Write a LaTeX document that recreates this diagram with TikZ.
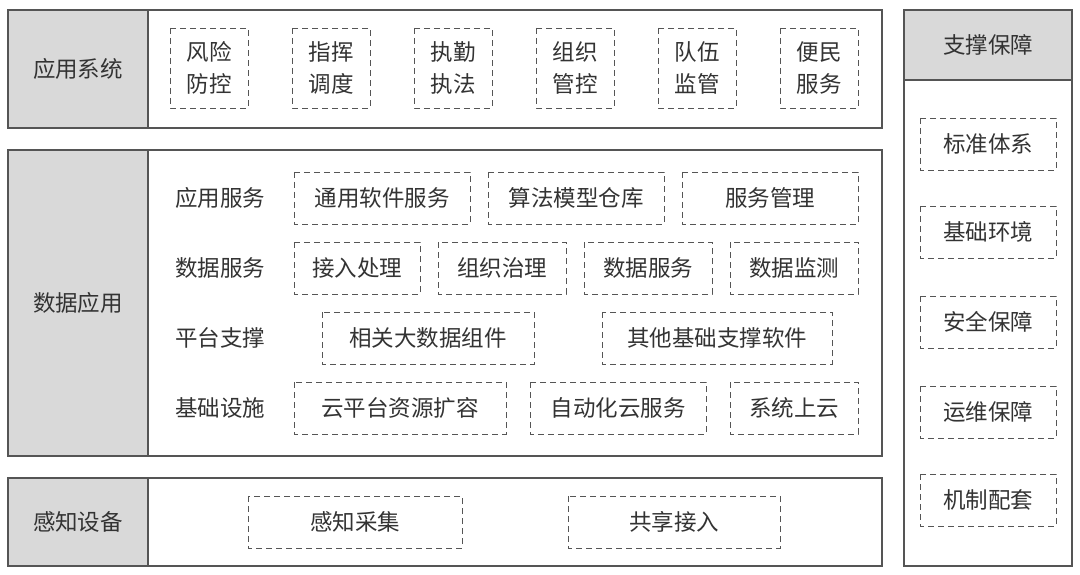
\documentclass[tikz,border=0pt]{standalone}
\usepackage{fontspec}
\setmainfont{Noto Sans CJK SC}
\definecolor{ln}{HTML}{555555}
\definecolor{gr}{HTML}{D9D9D9}
\definecolor{tx}{HTML}{333333}
\tikzset{
 outer/.style={draw=ln,line width=1.2pt},
 graybox/.style={draw=ln,fill=gr,line width=1.2pt},
 dbox/.style={draw=ln,dashed,dash pattern=on 6pt off 4pt,line width=0.9pt},
 lbl/.style={text=tx,font=\fontsize{22.5}{32}\selectfont,align=center},
}
\newcommand{\db}[6]{\draw[dbox] (#2,#4) rectangle (#3,#5); \node[lbl] (#1) at ({(#2+#3)/2},{(#4+#5)/2}) {#6};}
\begin{document}
\begin{tikzpicture}[x=1pt,y=-1pt]
\useasboundingbox (0,0) rectangle (1080,575);
\fill[white] (0,0) rectangle (1080,575);
% row 1
\draw[outer] (8,10) rectangle (882,128);
\draw[graybox] (8,10) rectangle (148,128);
\node[lbl] (r1) at (78,69) {应用系统};
\db{a1}{170}{248}{28}{108}{风险\\防控}
\db{a2}{292}{370}{28}{108}{指挥\\调度}
\db{a3}{414}{492}{28}{108}{执勤\\执法}
\db{a4}{536}{614}{28}{108}{组织\\管控}
\db{a5}{658}{736}{28}{108}{队伍\\监管}
\db{a6}{780}{858}{28}{108}{便民\\服务}
% row 2
\draw[outer] (8,150) rectangle (882,456);
\draw[graybox] (8,150) rectangle (148,456);
\node[lbl] (r2) at (78,303) {数据应用};
\node[lbl] (s1) at (220,198) {应用服务};
\node[lbl] (s2) at (220,268) {数据服务};
\node[lbl] (s3) at (220,338) {平台支撑};
\node[lbl] (s4) at (220,408) {基础设施};
\db{b1}{294}{470}{172}{224}{通用软件服务}
\db{b2}{488}{664}{172}{224}{算法模型仓库}
\db{b3}{682}{858}{172}{224}{服务管理}
\db{c1}{294}{420}{242}{294}{接入处理}
\db{c2}{438}{566}{242}{294}{组织治理}
\db{c3}{584}{712}{242}{294}{数据服务}
\db{c4}{730}{858}{242}{294}{数据监测}
\db{d1}{322}{534}{312}{364}{相关大数据组件}
\db{d2}{602}{832}{312}{364}{其他基础支撑软件}
\db{e1}{294}{506}{382}{434}{云平台资源扩容}
\db{e2}{530}{706}{382}{434}{自动化云服务}
\db{e3}{730}{858}{382}{434}{系统上云}
% row 3
\draw[outer] (8,478) rectangle (882,566);
\draw[graybox] (8,478) rectangle (148,566);
\node[lbl] (r3) at (78,522) {感知设备};
\db{f1}{248}{462}{496}{548}{感知采集}
\db{f2}{568}{780}{496}{548}{共享接入}
% right column
\draw[outer] (904,10) rectangle (1072,566);
\draw[graybox] (904,10) rectangle (1072,80);
\node[lbl] (r4) at (988,45) {支撑保障};
\db{g1}{920}{1056}{118}{170}{标准体系}
\db{g2}{920}{1056}{206}{258}{基础环境}
\db{g3}{920}{1056}{296}{348}{安全保障}
\db{g4}{920}{1056}{386}{438}{运维保障}
\db{g5}{920}{1056}{474}{526}{机制配套}
\end{tikzpicture}
\end{document}
